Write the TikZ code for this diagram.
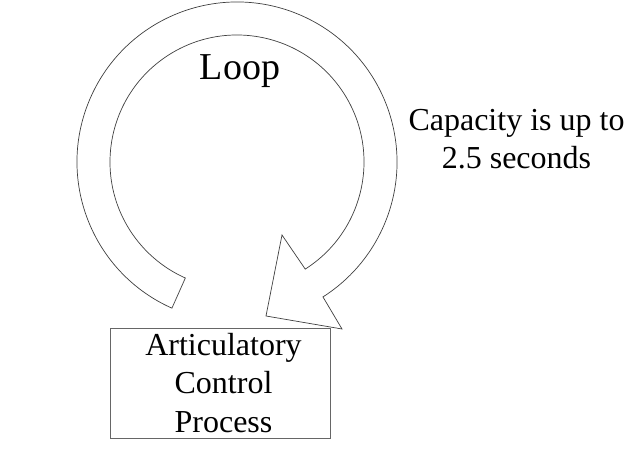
\documentclass[tikz,border=0pt]{standalone}
\usepackage{fontspec}
\setmainfont{Liberation Serif}
\usetikzlibrary{calc}
\begin{document}
\begin{tikzpicture}[x=1pt,y=1pt,
  ring/.style={draw=black!75,line width=0.7pt,fill=white,line join=miter},
  procbox/.style={draw=black!60,line width=0.9pt,minimum width=220pt,minimum height=110pt,inner sep=0pt,align=center,font=\fontsize{32}{38.5}\selectfont},
  label/.style={align=center,inner sep=0pt,font=\fontsize{32}{38}\selectfont}]
\useasboundingbox (0,0) rectangle (642,452);
\coordinate (c) at (237,290);
\coordinate (barbout) at (342,123);
\coordinate (tip) at (266,136);
\coordinate (barbin) at (282,217);
\draw[ring] ($(c)+(246:160)$) arc[start angle=246,end angle=-57.5,radius=160]
  -- (barbout) -- (tip) -- (barbin) -- ($(c)+(-57.5:127)$)
  arc[start angle=-57.5,end angle=246,radius=127] -- cycle;
\node[label,anchor=base] (loop) at (240,372) {\fontsize{38}{44}\selectfont Loop};
\node[label,anchor=base] (cap) at (516.5,283) {Capacity is up to\\2.5 seconds};
\node[procbox] (acp) at (220,69) {\hspace*{7pt}Articulatory\\\hspace*{7pt}Control\\\hspace*{7pt}Process};
\end{tikzpicture}
\end{document}
